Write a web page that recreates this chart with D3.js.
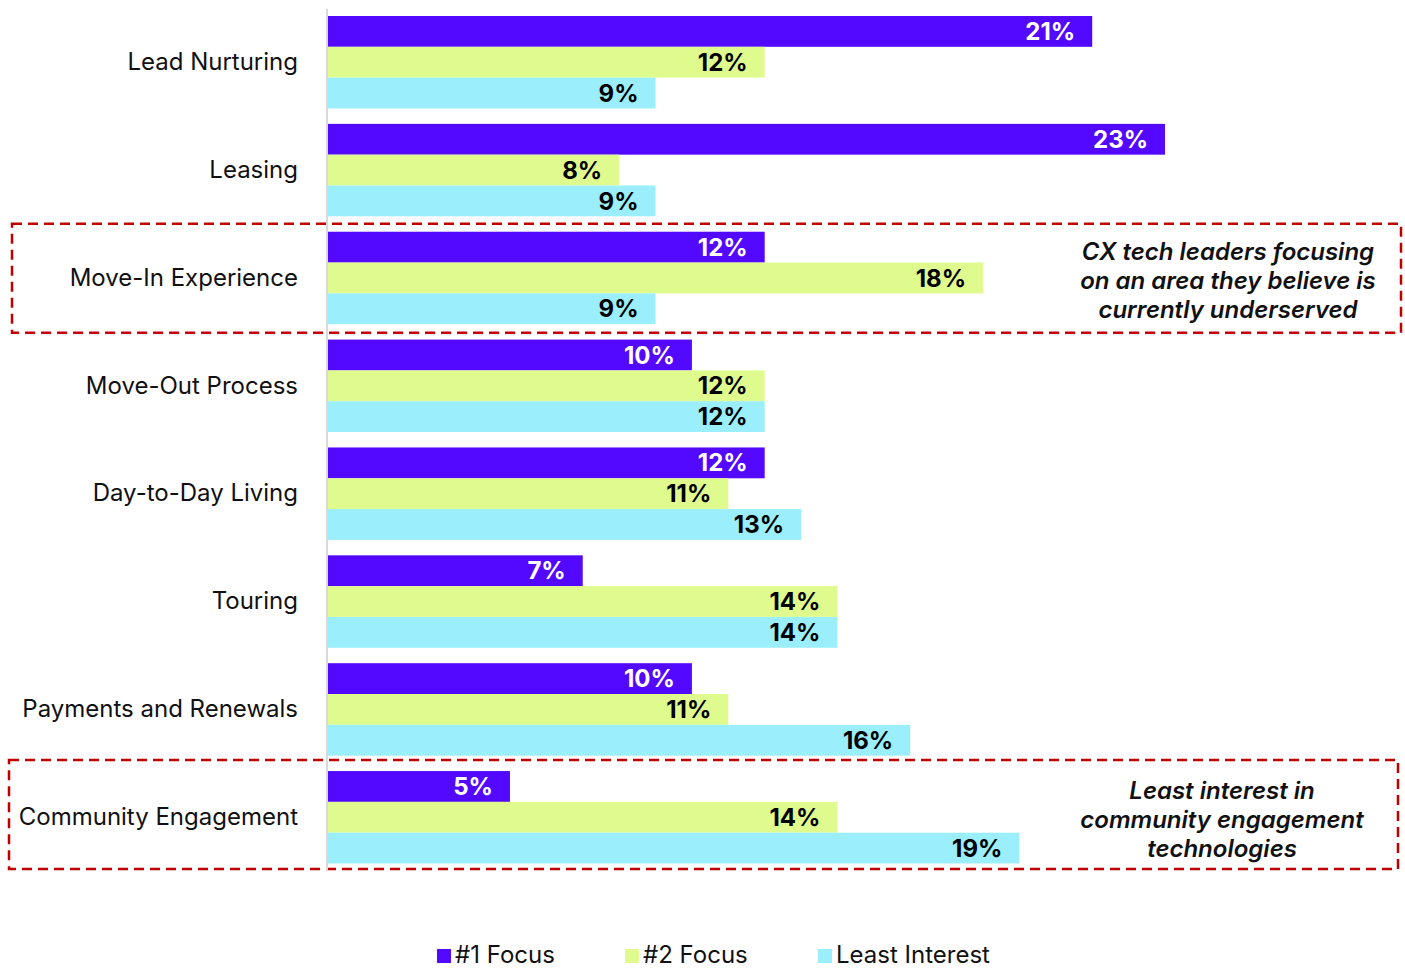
<!DOCTYPE html>
<html>
<head>
<meta charset="utf-8">
<script src="https://cdn.jsdelivr.net/npm/d3@7"></script>
<style>
  html, body { margin: 0; padding: 0; background: #ffffff; }
  svg { display: block; font-family: Inter, "Noto Sans", sans-serif; }
</style>
</head>
<body>
<svg id="chart" width="1405" height="970"></svg>
<script>
// Categories, top to bottom
const categories = [
  "Lead Nurturing",
  "Leasing",
  "Move-In Experience",
  "Move-Out Process",
  "Day-to-Day Living",
  "Touring",
  "Payments and Renewals",
  "Community Engagement"
];

// Series names and their values (percent of respondents)
const seriesNames = ["#1 Focus", "#2 Focus", "Least Interest"];
const focus1 = [21, 23, 12, 10, 12, 7, 10, 5];
const focus2 = [12, 8, 18, 12, 11, 14, 11, 14];
const leastInterest = [9, 9, 9, 12, 13, 14, 16, 19];

// Callout notes attached to specific categories
const notes = [
  { category: "Move-In Experience", lines: ["CX tech leaders focusing", "on an area they believe is", "currently underserved"] },
  { category: "Community Engagement", lines: ["Least interest in", "community engagement", "technologies"] }
];

const seriesValues = [focus1, focus2, leastInterest];
const colors = ["#5309ff", "#e0fb8d", "#9beefb"];
const labelColors = ["#ffffff", "#000000", "#000000"];
const FS = 24;

const svg = d3.select("#chart");

const x = d3.scaleLinear().domain([0, 23]).range([328, 1165]);
const y = d3.scaleBand().domain(categories).range([16, 863.5]).paddingInner(0.143).paddingOuter(0);
const ySub = d3.scaleBand().domain(seriesNames).range([0, y.bandwidth()]);

const rows = categories.map((c, i) => ({
  category: c,
  values: seriesNames.map((s, j) => ({ series: s, idx: j, value: seriesValues[j][i] }))
}));

// Dashed callout boxes (behind the bars)
const boxes = [
  { category: "Move-In Experience", x0: 12, x1: 1401, top: 8, bottom: 8.6 },
  { category: "Community Engagement", x0: 9, x1: 1398, top: 11, bottom: 5.6 }
];
svg.append("g").selectAll("rect").data(boxes).join("rect")
  .attr("x", d => d.x0)
  .attr("y", d => y(d.category) - d.top)
  .attr("width", d => d.x1 - d.x0)
  .attr("height", d => y.bandwidth() + d.top + d.bottom)
  .attr("fill", "none")
  .attr("stroke", "#c00000")
  .attr("stroke-width", 2.5)
  .attr("stroke-dasharray", "10,6");

// Bars
const groups = svg.append("g").selectAll("g").data(rows).join("g")
  .attr("transform", d => `translate(0,${y(d.category)})`);

groups.selectAll("rect").data(d => d.values).join("rect")
  .attr("x", x(0))
  .attr("y", d => ySub(d.series))
  .attr("width", d => x(d.value) - x(0))
  .attr("height", ySub.bandwidth())
  .attr("fill", d => colors[d.idx]);

groups.selectAll("text").data(d => d.values).join("text")
  .attr("x", d => x(d.value) - 17)
  .attr("y", d => ySub(d.series) + ySub.bandwidth() / 2)
  .attr("dy", "0.36em")
  .attr("text-anchor", "end")
  .attr("font-size", FS)
  .attr("font-weight", 700)
  .attr("fill", d => labelColors[d.idx])
  .text(d => d.value + "%");

// Category axis
const yAxis = d3.axisLeft(y).tickSize(0).tickPadding(29);
const axisG = svg.append("g").attr("transform", `translate(${x(0) - 1},0)`).call(yAxis);
axisG.select(".domain").remove();
axisG.selectAll("text")
  .attr("font-size", FS)
  .attr("font-family", "Inter, 'Noto Sans', sans-serif")
  .attr("fill", "#111111");
svg.append("line")
  .attr("x1", x(0) - 1).attr("x2", x(0) - 1)
  .attr("y1", 9).attr("y2", 870)
  .attr("stroke", "#d9d9d9").attr("stroke-width", 2);

// Callout text
const noteCenters = { "Move-In Experience": 1228, "Community Engagement": 1222 };
const noteG = svg.append("g").selectAll("text").data(notes).join("text")
  .attr("text-anchor", "middle")
  .attr("font-size", FS)
  .attr("font-weight", 600)
  .attr("font-style", "italic")
  .attr("fill", "#111111");
noteG.each(function(d) {
  const cy = y(d.category) + y.bandwidth() / 2 + 2;
  d3.select(this).selectAll("tspan").data(d.lines).join("tspan")
    .attr("x", noteCenters[d.category])
    .attr("y", (l, i) => cy + (i - 1) * 29)
    .attr("dy", "0.36em")
    .text(l => l);
});

// Legend
const legendX = [437, 625, 818];
const legend = svg.append("g").selectAll("g").data(seriesNames).join("g")
  .attr("transform", (d, i) => `translate(${legendX[i]},954)`);
legend.append("rect")
  .attr("x", 0).attr("y", -5).attr("width", 14).attr("height", 14)
  .attr("fill", (d, i) => colors[i]);
legend.append("text")
  .attr("x", 18).attr("y", 0).attr("dy", "0.36em")
  .attr("font-size", FS)
  .attr("fill", "#111111")
  .text(d => d);
</script>
</body>
</html>
